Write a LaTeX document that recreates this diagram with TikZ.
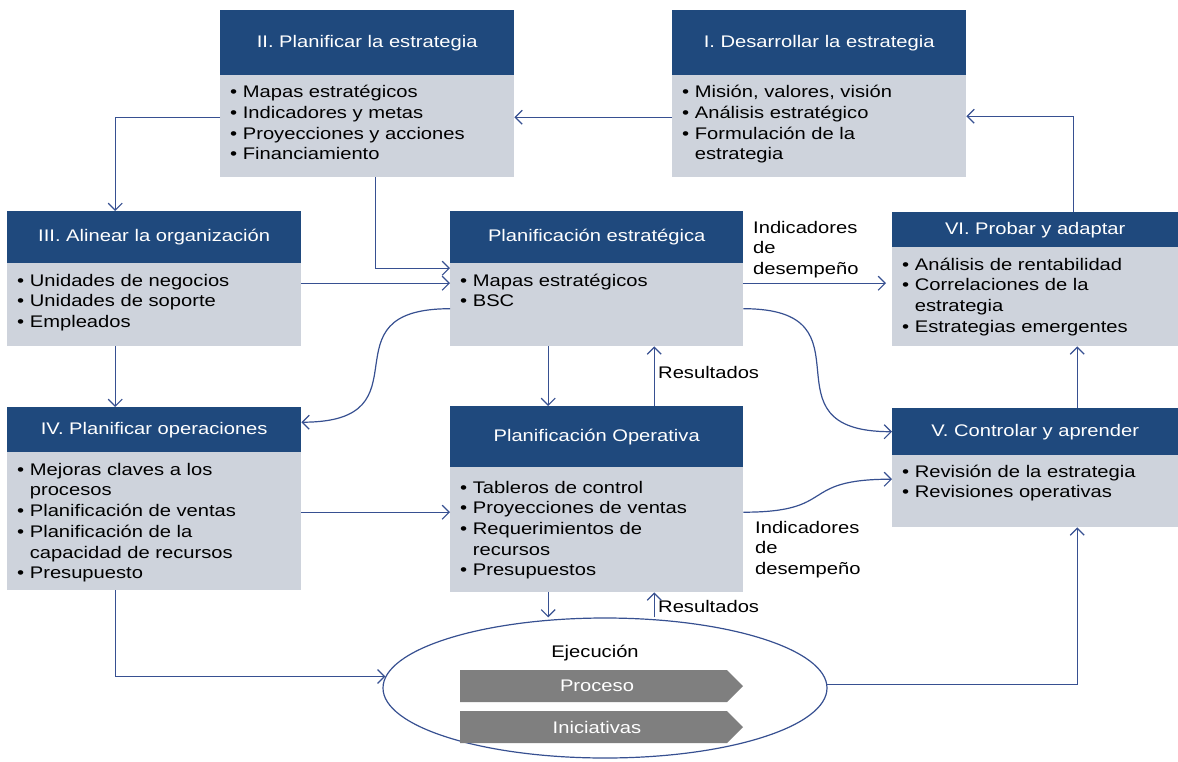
\documentclass[tikz,border=0pt]{standalone}
\usepackage{fontspec}
\setmainfont{Liberation Sans}[FakeStretch=1.2]
\usetikzlibrary{arrows.meta,shapes.geometric}

\definecolor{hdrblue}{RGB}{31,73,125}
\definecolor{bdygray}{RGB}{206,211,220}
\definecolor{linkblue}{RGB}{55,80,145}
\definecolor{stepgray}{RGB}{127,127,127}

\newcommand{\diafont}{\fontsize{16.8}{20.7}\selectfont}
\newcommand{\bitem}{\textbullet\ }
\newcommand{\bcont}{\hphantom{\textbullet\ }}

\tikzset{
  hdr/.style={fill=hdrblue, text=white, anchor=north west, inner sep=0pt, font=\diafont},
  bdy/.style={fill=bdygray, anchor=north west, inner sep=0pt},
  lst/.style={anchor=north west, inner sep=0pt, align=left, font=\diafont},
  lbl/.style={inner sep=0pt, font=\diafont},
  conn/.style={draw=linkblue, line width=1.2pt, -{Straight Barb[length=7pt,width=14pt]}},
  steparrow/.style={fill=stepgray},
}

\begin{document}
\begin{tikzpicture}[x=1pt,y=-1pt]
\useasboundingbox (0,0) rectangle (1178,761);

% I. Desarrollar la estrategia
\node[hdr, minimum width=294pt, minimum height=65pt] (h1) at (672,10) {I. Desarrollar la estrategia};
\node[bdy, minimum width=294pt, minimum height=102pt] (b1) at (672,75) {};
\node[lst] (t1) at (682,83) {\strut\bitem Misión, valores, visión\\ \bitem Análisis estratégico\\ \bitem Formulación de la\\ \bcont estrategia};

% II. Planificar la estrategia
\node[hdr, minimum width=294pt, minimum height=65pt] (h2) at (220,10) {II. Planificar la estrategia};
\node[bdy, minimum width=294pt, minimum height=102pt] (b2) at (220,75) {};
\node[lst] (t2) at (230,83) {\strut\bitem Mapas estratégicos\\ \bitem Indicadores y metas\\ \bitem Proyecciones y acciones\\ \bitem Financiamiento};

% III. Alinear la organización
\node[hdr, minimum width=294pt, minimum height=52pt] (h3) at (7,211) {III. Alinear la organización};
\node[bdy, minimum width=294pt, minimum height=83pt] (b3) at (7,263) {};
\node[lst] (t3) at (17,271.5) {\strut\bitem Unidades de negocios\\ \bitem Unidades de soporte\\ \bitem Empleados};

% Planificación estratégica
\node[hdr, minimum width=293pt, minimum height=52pt] (hpe) at (450,211) {Planificación estratégica};
\node[bdy, minimum width=293pt, minimum height=83pt] (bpe) at (450,263) {};
\node[lst] (tpe) at (460,271.5) {\strut\bitem Mapas estratégicos\\ \bitem BSC};

% VI. Probar y adaptar
\node[hdr, minimum width=286pt, minimum height=35pt] (h6) at (892,212) {VI. Probar y adaptar};
\node[bdy, minimum width=286pt, minimum height=99pt] (b6) at (892,247) {};
\node[lst] (t6) at (902,255.5) {\strut\bitem Análisis de rentabilidad\\ \bitem Correlaciones de la\\ \bcont estrategia\\ \bitem Estrategias emergentes};

% IV. Planificar operaciones
\node[hdr, minimum width=294pt, minimum height=45pt] (h4) at (7,407) {IV. Planificar operaciones};
\node[bdy, minimum width=294pt, minimum height=138pt] (b4) at (7,452) {};
\node[lst] (t4) at (17,460.5) {\strut\bitem Mejoras claves a los\\ \bcont procesos\\ \bitem Planificación de ventas\\ \bitem Planificación de la\\ \bcont capacidad de recursos\\ \bitem Presupuesto};

% Planificación Operativa
\node[hdr, minimum width=293pt, minimum height=61pt] (hpo) at (450,406) {Planificación Operativa};
\node[bdy, minimum width=293pt, minimum height=125pt] (bpo) at (450,467) {};
\node[lst] (tpo) at (460,478.5) {\strut\bitem Tableros de control\\ \bitem Proyecciones de ventas\\ \bitem Requerimientos de\\ \bcont recursos\\ \bitem Presupuestos};

% V. Controlar y aprender
\node[hdr, minimum width=286pt, minimum height=47pt] (h5) at (892,408) {V. Controlar y aprender};
\node[bdy, minimum width=286pt, minimum height=72pt] (b5) at (892,455) {};
\node[lst] (t5) at (902,462.5) {\strut\bitem Revisión de la estrategia\\ \bitem Revisiones operativas};

% Ejecución
\node[draw=linkblue, line width=1.2pt, fill=white, ellipse, minimum width=444pt, minimum height=140pt, inner sep=0pt] (ell) at (605,688) {};
\node[lbl, anchor=base] (ej) at (595,657) {Ejecución};
\fill[steparrow] (460,670) -- (727,670) -- (743,686) -- (727,702) -- (460,702) -- cycle;
\node[lbl, text=white] (proc) at (597,686) {Proceso};
\fill[steparrow] (460,711) -- (727,711) -- (743,727) -- (727,743) -- (460,743) -- cycle;
\node[lbl, text=white] (inic) at (597,727) {Iniciativas};

% Labels
\node[lbl, anchor=north west, align=left] (ind1) at (753,218.5) {\strut Indicadores\\de\\desempeño};
\node[lbl, anchor=north west, align=left] (ind2) at (755,518.5) {\strut Indicadores\\de\\desempeño};
\node[lbl, anchor=base west] (res1) at (658,378) {Resultados};
\node[lbl, anchor=base west] (res2) at (658,612) {Resultados};

% Connectors
\draw[conn] ([yshift=9pt]b1.west) -- ([yshift=9pt]b2.east);
\draw[conn] ([yshift=9pt]b2.west) -| ([xshift=-39pt]h3.north);
\draw[conn] ([xshift=8pt]b2.south) |- ([yshift=36.5pt]bpe.west);
\draw[conn] ([yshift=21.5pt]b3.east) -- ([yshift=21.5pt]bpe.west);
\draw[conn] ([xshift=-39pt]b3.south) -- ([xshift=-39pt]h4.north);
\draw[conn] ([yshift=-4pt]bpe.west) to[out=180,in=0,looseness=1.8] ([yshift=7.5pt]h4.east);
\draw[conn] ([yshift=-4pt]bpe.east) to[out=0,in=180,looseness=1.8] (h5.west);
\draw[conn, shorten >=6pt] ([yshift=21.5pt]bpe.east) -- ([yshift=13.5pt]b6.west);
\draw[conn] ([xshift=-48.5pt]bpe.south) -- ([xshift=-48.5pt]hpo.north);
\draw[conn] ([xshift=57.5pt]hpo.north) -- ([xshift=57.5pt]bpe.south);
\draw[conn] ([xshift=38pt]h6.north) |- ([yshift=10pt]b1.east);
\draw[conn] ([xshift=42pt]h5.north) -- ([xshift=42pt]b6.south);
\draw[conn] ([yshift=9pt]b4.east) -- ([yshift=17.5pt]bpo.west);
\draw[conn] ([yshift=17.5pt]bpo.east) to[out=0,in=180,looseness=1.6] ([yshift=12pt]b5.west);
\coordinate (d1) at ([xshift=-48.5pt]bpo.south);
\coordinate (u1) at ([xshift=57.5pt]bpo.south);
\draw[conn] (d1) -- (d1 |- ell.north);
\draw[conn] (u1 |- ell.north) -- (u1);
\draw[conn] ([xshift=-39pt]b4.south) |- (ell.177);
\draw[conn] (ell.1) -| ([xshift=42pt]b5.south);
\end{tikzpicture}
\end{document}
